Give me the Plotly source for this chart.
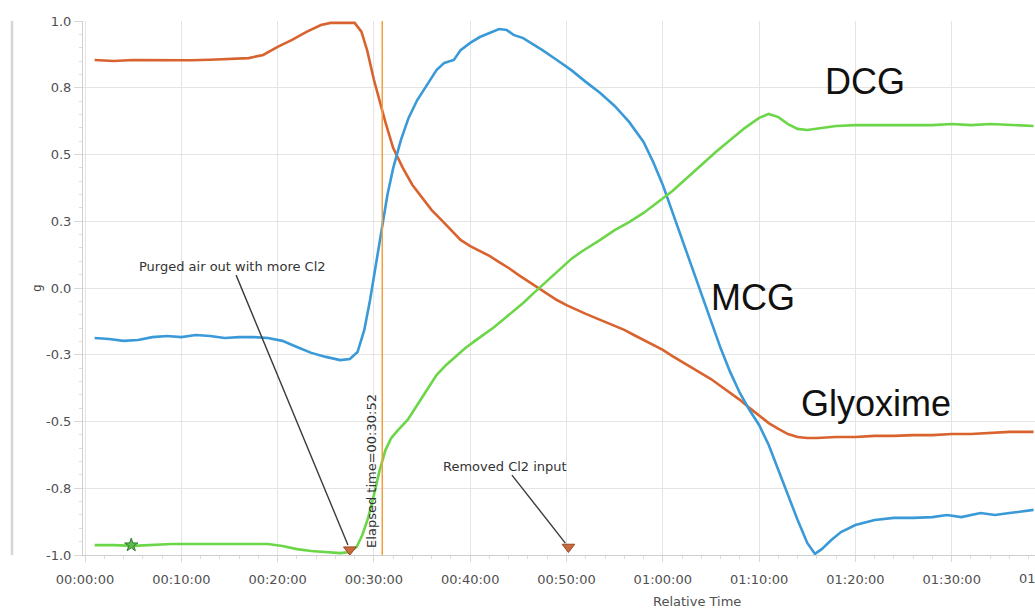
import plotly.graph_objects as go

# Relative time in minutes, normalised signal "g" for each species
glyoxime_t = [1, 3, 5, 7, 9, 11, 13, 15, 17, 18.5, 20, 21.5, 23, 24.5, 25.5, 27, 28,
              28.7, 29.3, 30, 30.6, 31.2, 32, 33, 34, 35, 36, 37, 38, 39, 40, 41, 42,
              43, 44, 45, 46, 47, 48, 49, 50, 51, 52, 53, 54, 55, 56, 57, 58, 59, 60,
              61, 62, 63, 64, 65, 66, 67, 68, 69, 70, 71, 72, 73, 74, 75, 76, 78, 80,
              82, 84, 86, 88, 90, 92, 94, 96, 98.5]
glyoxime_g = [0.854, 0.850, 0.854, 0.853, 0.854, 0.853, 0.855, 0.858, 0.861, 0.873,
              0.903, 0.929, 0.959, 0.985, 0.993, 0.993, 0.993, 0.960, 0.890, 0.780,
              0.700, 0.620, 0.524, 0.450, 0.386, 0.337, 0.292, 0.255, 0.217, 0.180,
              0.157, 0.139, 0.120, 0.097, 0.075, 0.049, 0.026, 0.000, -0.022, -0.045,
              -0.064, -0.082, -0.097, -0.112, -0.127, -0.142, -0.157, -0.176, -0.195,
              -0.213, -0.232, -0.255, -0.277, -0.296, -0.318, -0.341, -0.367, -0.393,
              -0.419, -0.449, -0.479, -0.506, -0.528, -0.547, -0.558, -0.562, -0.562,
              -0.558, -0.558, -0.554, -0.554, -0.551, -0.551, -0.547, -0.547, -0.543,
              -0.539, -0.539]

mcg_t = [1, 2.5, 4, 5.5, 7, 8.5, 10, 11.5, 13, 14.5, 16, 17.5, 19, 20.5, 22, 23.5, 25,
         26.5, 27.5, 28.3, 29, 29.6, 30.2, 30.8, 31.4, 32, 32.8, 33.6, 34.5, 35.5, 36.5,
         37.3, 38.3, 39, 40, 41, 42, 43, 43.8, 44.5, 45.5, 46.5, 47.5, 49, 50.5, 52,
         53.5, 55, 56.5, 58, 59, 60, 61, 62, 63, 64, 65, 66, 67, 68, 69, 70, 71, 72, 73,
         74, 75, 75.8, 76.5, 77.5, 78.5, 80, 82, 84, 86, 88, 89.5, 91, 93, 94.5, 96, 98.5]
mcg_g = [-0.187, -0.191, -0.198, -0.195, -0.184, -0.180, -0.184, -0.176, -0.180, -0.187,
         -0.184, -0.184, -0.187, -0.198, -0.221, -0.243, -0.258, -0.270, -0.266, -0.240,
         -0.157, -0.045, 0.086, 0.217, 0.348, 0.449, 0.554, 0.637, 0.704, 0.760, 0.816,
         0.843, 0.854, 0.891, 0.918, 0.940, 0.955, 0.970, 0.966, 0.948, 0.936, 0.914,
         0.891, 0.854, 0.816, 0.772, 0.730, 0.682, 0.622, 0.547, 0.472, 0.386, 0.285,
         0.180, 0.075, -0.026, -0.127, -0.225, -0.315, -0.393, -0.457, -0.513, -0.588,
         -0.682, -0.775, -0.869, -0.955, -0.996, -0.978, -0.944, -0.914, -0.888, -0.869,
         -0.861, -0.861, -0.858, -0.850, -0.858, -0.843, -0.850, -0.843, -0.831]

dcg_t = [1, 3, 5, 7, 9, 11, 13, 15, 17, 19, 20.5, 22, 23.5, 25, 26.5, 27.5, 28.2, 28.8,
         29.4, 30, 30.6, 31.2, 31.8, 32.5, 33.5, 34.5, 35.5, 36.5, 37.5, 38.5, 39.5,
         40.5, 41.5, 42.5, 43.5, 44.5, 45.5, 46.5, 47.5, 48.5, 49.5, 50.5, 51.5, 52.5,
         53.5, 55, 56.5, 58, 59.5, 61, 62.5, 64, 65.5, 67, 68.5, 70, 71, 72, 73, 74, 75,
         76.5, 78, 80, 82, 84, 86, 88, 90, 92, 94, 96, 98.5]
dcg_g = [-0.963, -0.963, -0.966, -0.963, -0.959, -0.959, -0.959, -0.959, -0.959, -0.959,
         -0.966, -0.978, -0.985, -0.989, -0.993, -0.989, -0.970, -0.925, -0.861, -0.775,
         -0.682, -0.607, -0.562, -0.532, -0.494, -0.438, -0.382, -0.326, -0.288, -0.255,
         -0.225, -0.198, -0.172, -0.146, -0.116, -0.086, -0.056, -0.022, 0.011, 0.045,
         0.079, 0.109, 0.135, 0.157, 0.180, 0.217, 0.247, 0.281, 0.322, 0.363, 0.412,
         0.461, 0.509, 0.554, 0.599, 0.637, 0.652, 0.640, 0.614, 0.596, 0.592, 0.599,
         0.607, 0.610, 0.610, 0.610, 0.610, 0.610, 0.614, 0.610, 0.614, 0.610, 0.607]

# Event markers on the time line
event_t = [27.5, 50.2]
event_g = [-0.980, -0.970]
start_t = [4.8]
start_g = [-0.963]
elapsed_t = 30 + 52 / 60  # cursor at 00:30:52

x_ticks = [0, 10, 20, 30, 40, 50, 60, 70, 80, 90]
x_labels = ["00:00:00", "00:10:00", "00:20:00", "00:30:00", "00:40:00",
            "00:50:00", "01:00:00", "01:10:00", "01:20:00", "01:30:00"]
next_tick, next_label = 100, "01:40:00"
y_ticks = [-1.0, -0.75, -0.5, -0.25, 0.0, 0.25, 0.5, 0.75, 1.0]
y_labels = ["-1.0", "-0.8", "-0.5", "-0.3", "0.0", "0.3", "0.5", "0.8", "1.0"]

RED, BLUE, GREEN = "#D9632F", "#3A9AD8", "#6CD649"
x_range = [-0.21, 98.65]

fig = go.Figure()
fig.add_trace(go.Scatter(x=glyoxime_t, y=glyoxime_g, mode="lines", name="Glyoxime",
                         line=dict(color=RED, width=2.6)))
fig.add_trace(go.Scatter(x=mcg_t, y=mcg_g, mode="lines", name="MCG",
                         line=dict(color=BLUE, width=2.6)))
fig.add_trace(go.Scatter(x=dcg_t, y=dcg_g, mode="lines", name="DCG",
                         line=dict(color=GREEN, width=2.6)))
fig.add_trace(go.Scatter(x=start_t, y=start_g, mode="markers", name="start",
                         marker=dict(symbol="star", size=10, color="#5DBB4A",
                                     line=dict(color="#2E7D32", width=1))))
fig.add_trace(go.Scatter(x=event_t, y=event_g, mode="markers", name="events",
                         marker=dict(symbol="triangle-down", size=11, color="#C8693E",
                                     line=dict(color="#9A4A24", width=1))))

# elapsed-time cursor
fig.add_shape(type="line", xref="x", yref="paper", x0=elapsed_t, x1=elapsed_t, y0=0, y1=1,
              line=dict(color="#F0A040", width=1.5))
# scroll ruler on the far left
fig.add_shape(type="line", xref="paper", yref="paper", x0=-0.0746, x1=-0.0746, y0=0, y1=1,
              line=dict(color="#D6D6D6", width=2.5))

small = dict(family="DejaVu Sans", size=13, color="#333333")
big = dict(family="Liberation Sans", size=36, color="#111111")
tickfont = dict(family="DejaVu Sans", size=13, color="#505050")

annotations = [
    dict(x=event_t[0], y=event_g[0], ax=15.3, ay=0.082, axref="x", ayref="y",
         text="Purged air out with more Cl2", showarrow=True, arrowhead=0,
         arrowwidth=1.4, arrowcolor="#3C3C3C", standoff=5, font=small),
    dict(x=event_t[1], y=event_g[1], ax=43.6, ay=-0.667, axref="x", ayref="y",
         text="Removed Cl2 input", showarrow=True, arrowhead=0,
         arrowwidth=1.4, arrowcolor="#3C3C3C", standoff=5, font=small),
    dict(x=29.8, y=-0.685, text="Elapsed time=00:30:52", textangle=-90, showarrow=False,
         font=small),
    dict(x=81.0, y=0.772, text="DCG", showarrow=False, font=big),
    dict(x=69.4, y=-0.034, text="MCG", showarrow=False, font=big),
    dict(x=82.1, y=-0.434, text="Glyoxime", showarrow=False, font=big),
    dict(xref="paper", yref="paper", x=-0.0578, y=0.5, text="g", textangle=-90,
         showarrow=False, font=dict(family="DejaVu Sans", size=12, color="#444444")),
    dict(xref="paper", yref="paper", x=0.645, y=0, xanchor="center", yanchor="middle",
         yshift=-46, text="Relative Time", showarrow=False, font=tickfont),
    # tick label of the next hour mark, partly past the right edge
    dict(xref="paper", yref="paper",
         x=(next_tick - x_range[0]) / (x_range[1] - x_range[0]), y=0,
         xanchor="center", yanchor="middle", yshift=-23,
         text=next_label, showarrow=False, font=tickfont),
]

fig.update_layout(
    width=1035, height=611,
    margin=dict(l=83, r=0, t=21, b=56),
    plot_bgcolor="white", paper_bgcolor="white",
    showlegend=False,
    font=dict(family="DejaVu Sans", size=13, color="#505050"),
    annotations=annotations,
)
fig.update_xaxes(
    range=x_range, tickmode="array", tickvals=x_ticks, ticktext=x_labels,
    showgrid=True, gridcolor="#E4E4E4", gridwidth=1,
    showline=True, linecolor="#CFCFCF", linewidth=1,
    ticks="outside", ticklen=6, tickcolor="#D8D8D8", ticklabelstandoff=6,
    minor=dict(tickmode="linear", tick0=0, dtick=2, ticks="outside", ticklen=3,
               tickcolor="#DDDDDD", showgrid=False),
    zeroline=False, tickfont=tickfont,
)
fig.update_yaxes(
    range=[-1.0, 1.0], tickmode="array", tickvals=y_ticks, ticktext=y_labels,
    showgrid=True, gridcolor="#E4E4E4", gridwidth=1,
    showline=True, linecolor="#CFCFCF", linewidth=1,
    ticks="outside", ticklen=8, tickcolor="#D8D8D8",
    minor=dict(tickmode="linear", tick0=0, dtick=0.05, ticks="outside", ticklen=3,
               tickcolor="#DDDDDD", showgrid=False),
    zeroline=False, tickfont=tickfont,
)

fig.write_html("out.html")
